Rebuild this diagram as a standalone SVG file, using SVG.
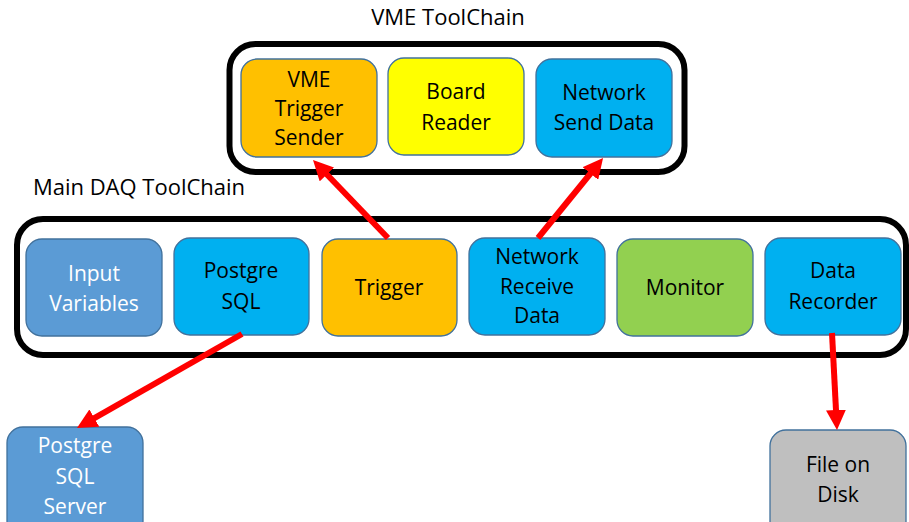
<svg xmlns="http://www.w3.org/2000/svg" width="909" height="522" viewBox="0 0 909 522">
  <style>
    .chain { fill: #ffffff; stroke: #000000; stroke-width: 6; }
    .node { stroke: #41719C; stroke-width: 1.3; }
    .orange { fill: #FFC000; }
    .yellow { fill: #FFFF00; }
    .cyan { fill: #00B0F0; }
    .steel { fill: #5B9BD5; }
    .green { fill: #92D050; }
    .grey { fill: #BFBFBF; }
    text { font-family: "Open Sans", "Liberation Sans", sans-serif; font-size: 21px; text-anchor: middle; fill: #000000; }
    text.light { fill: #ffffff; }
    text.title { font-size: 22px; }
    .link { stroke: #FF0000; stroke-width: 6; fill: none; }
  </style>
  <defs>
    <marker id="head" viewBox="0 0 20 20" markerWidth="20" markerHeight="20" markerUnits="userSpaceOnUse" refX="2" refY="10" orient="auto">
      <path d="M0,0 L20,10 L0,20 z" fill="#FF0000"/>
    </marker>
  </defs>

  <!-- tool chain frames -->
  <g id="vme-toolchain">
    <rect class="chain" x="229.5" y="44" width="455" height="128" rx="26"/>
    <text class="title" x="448" y="25">VME ToolChain</text>
  </g>
  <g id="main-daq-toolchain">
    <rect class="chain" x="17" y="219" width="889" height="136" rx="26"/>
    <text class="title" x="139" y="195">Main DAQ ToolChain</text>
  </g>

  <!-- VME tools -->
  <g id="vme-trigger-sender">
    <rect class="node orange" x="241" y="59" width="136" height="98" rx="16"/>
    <text x="309" y="87">VME</text>
    <text x="309" y="116">Trigger</text>
    <text x="309" y="145">Sender</text>
  </g>
  <g id="board-reader">
    <rect class="node yellow" x="388" y="58" width="136" height="97" rx="16"/>
    <text x="456" y="99">Board</text>
    <text x="456" y="130">Reader</text>
  </g>
  <g id="network-send-data">
    <rect class="node cyan" x="536" y="59" width="136" height="98" rx="16"/>
    <text x="604" y="100">Network</text>
    <text x="604" y="130">Send Data</text>
  </g>

  <!-- main DAQ tools -->
  <g id="input-variables">
    <rect class="node steel" x="26" y="239" width="136" height="97" rx="16"/>
    <text class="light" x="94" y="281">Input</text>
    <text class="light" x="94" y="311">Variables</text>
  </g>
  <g id="postgre-sql">
    <rect class="node cyan" x="174" y="238" width="135" height="97" rx="16"/>
    <text x="241" y="278">Postgre</text>
    <text x="241" y="309">SQL</text>
  </g>
  <g id="trigger">
    <rect class="node orange" x="322" y="239" width="135" height="97" rx="16"/>
    <text x="389" y="295">Trigger</text>
  </g>
  <g id="network-receive-data">
    <rect class="node cyan" x="469" y="238" width="136" height="97" rx="16"/>
    <text x="537" y="264">Network</text>
    <text x="537" y="294">Receive</text>
    <text x="537" y="323">Data</text>
  </g>
  <g id="monitor">
    <rect class="node green" x="617" y="239" width="136" height="97" rx="16"/>
    <text x="685" y="295">Monitor</text>
  </g>
  <g id="data-recorder">
    <rect class="node cyan" x="765" y="238" width="136" height="97" rx="16"/>
    <text x="833" y="278">Data</text>
    <text x="833" y="309">Recorder</text>
  </g>

  <!-- external resources -->
  <g id="postgre-sql-server">
    <rect class="node steel" x="7" y="427" width="136" height="110" rx="16"/>
    <text class="light" x="75" y="453">Postgre</text>
    <text class="light" x="75" y="484">SQL</text>
    <text class="light" x="75" y="514">Server</text>
  </g>
  <g id="file-on-disk">
    <rect class="node grey" x="770" y="430" width="136" height="110" rx="16"/>
    <text x="838" y="472">File on</text>
    <text x="838" y="502">Disk</text>
  </g>

  <!-- connectors -->
  <g id="connectors">
    <line class="link" x1="388" y1="238" x2="325.5" y2="173" marker-end="url(#head)"/>
    <line class="link" x1="538" y1="238" x2="591.7" y2="172" marker-end="url(#head)"/>
    <line class="link" x1="242" y1="334" x2="92.6" y2="419.1" marker-end="url(#head)"/>
    <line class="link" x1="832" y1="333" x2="836.1" y2="412" marker-end="url(#head)"/>
  </g>
</svg>
